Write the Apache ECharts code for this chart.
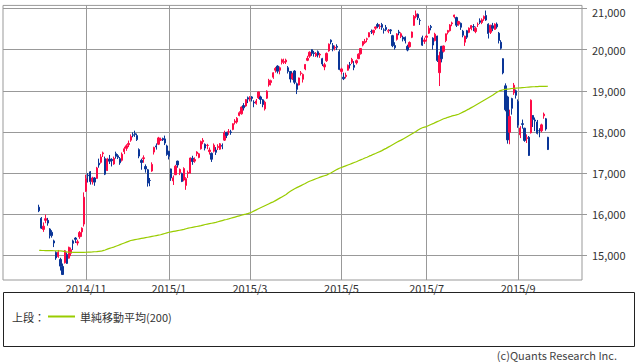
<!DOCTYPE html>
<html><head><meta charset="utf-8">
<script src="https://cdn.jsdelivr.net/npm/echarts@6/dist/echarts.min.js"></script>
<style>html,body{margin:0;padding:0;background:#fff}#c{width:638px;height:362px}</style>
</head><body><div id="c"></div>
<script>
// Trading days per month (Tokyo), Oct 2014 - Sep 2015
const tradingDays = [
  ['2014/10',[1,2,3,6,7,8,9,10,14,15,16,17,20,21,22,23,24,27,28,29,30,31]],
  ['2014/11',[4,5,6,7,10,11,12,13,14,17,18,19,20,21,25,26,27,28]],
  ['2014/12',[1,2,3,4,5,8,9,10,11,12,15,16,17,18,19,22,24,25,26,29,30]],
  ['2015/1',[5,6,7,8,9,13,14,15,16,19,20,21,22,23,26,27,28,29,30]],
  ['2015/2',[2,3,4,5,6,9,10,12,13,16,17,18,19,20,23,24,25,26,27]],
  ['2015/3',[2,3,4,5,6,9,10,11,12,13,16,17,18,19,20,23,24,25,26,27,30,31]],
  ['2015/4',[1,2,3,6,7,8,9,10,13,14,15,16,17,20,21,22,23,24,27,28,30]],
  ['2015/5',[1,7,8,11,12,13,14,15,18,19,20,21,22,25,26,27,28,29]],
  ['2015/6',[1,2,3,4,5,8,9,10,11,12,15,16,17,18,19,22,23,24,25,26,29,30]],
  ['2015/7',[1,2,3,6,7,8,9,10,13,14,15,16,17,21,22,23,24,27,28,29,30,31]],
  ['2015/8',[3,4,5,6,7,10,11,12,13,14,17,18,19,20,21,24,25,26,27,28,31]],
  ['2015/9',[1,2,3,4,7,8,9,10,11,14,15,16,17,18,24]]
];
const monthLabels = ['2014/11','2015/1','2015/3','2015/5','2015/7','2015/9'];
const yTicks = [15000,16000,17000,18000,19000,20000,21000];

// [open, close, low, high]
const candles = [
[16170,16082,16050,16230],[15900,15661,15640,15930],[15630,15708,15570,15800],[15850,15891,15780,15990],[15850,15784,15720,15910],
[15640,15478,15410,15660],[15560,15479,15430,15610],[15350,15300,15200,15380],[15070,14936,14890,15100],[14970,15074,14940,15130],
[14900,14738,14630,14940],[14730,14533,14529,14800],[14820,15111,14800,15130],[15020,14804,14790,15070],[14930,15195,14920,15210],
[15050,15138,14980,15190],[15350,15291,15130,15380],[15420,15388,15300,15440],[15300,15329,15240,15380],[15450,15553,15400,15590],
[15570,15658,15450,15680],[15760,16413,15700,16530],
[16560,16862,16540,16960],[16950,16937,16770,17000],[17030,16792,16720,17050],[16790,16880,16720,16910],[16880,16780,16690,16900],
[16870,17124,16860,17150],[17240,17197,17130,17350],[17260,17392,17230,17460],[17470,17490,17390,17520],[17350,16973,16950,17400],
[17060,17344,17050,17370],[17340,17288,17220,17440],[17330,17300,17160,17360],[17220,17357,17200,17400],[17470,17407,17350,17520],
[17420,17383,17340,17460],[17350,17248,17200,17390],[17310,17459,17280,17500],
[17520,17590,17460,17640],[17600,17663,17540,17700],[17690,17720,17630,17790],[17800,17887,17760,17940],[17930,17920,17870,17990],
[17960,17935,17880,18030],[17910,17813,17780,17960],[17570,17412,17360,17600],[17310,17257,17080,17350],[17350,17371,17250,17430],
[17160,17099,17010,17210],[17080,16755,16670,17100],[16820,16819,16680,16880],[17050,17210,17030,17260],[17510,17621,17450,17640],
[17660,17635,17570,17720],[17700,17854,17680,17880],[17800,17818,17780,17860],[17840,17808,17780,17860],[17830,17729,17680,17910],
[17660,17451,17420,17690],
[17530,17408,17330,17540],[17100,16883,16810,17110],[16810,16885,16710,16940],[16960,17167,16950,17200],[17290,17197,17130,17300],
[17010,17087,16950,17110],[16990,16795,16780,17010],[16830,17108,16800,17140],[16700,16864,16592,16900],[16990,17014,16880,17060],
[17000,17366,16990,17380],[17360,17280,17200,17420],[17290,17329,17250,17380],[17470,17511,17410,17530],[17380,17468,17360,17490],
[17590,17768,17570,17790],[17760,17795,17700,17850],[17700,17606,17550,17720],[17670,17674,17580,17710],
[17520,17558,17450,17620],[17480,17335,17270,17500],[17530,17678,17500,17720],[17560,17504,17440,17630],[17620,17648,17560,17700],
[17580,17711,17560,17730],[17670,17652,17580,17720],[17800,17979,17780,18030],[17990,17913,17850,18000],[18000,18004,17930,18070],
[18000,17987,17930,18050],[18060,18199,18040,18210],[18230,18264,18180,18310],[18240,18332,18200,18360],[18400,18466,18380,18500],
[18440,18603,18420,18620],[18640,18585,18520,18700],[18630,18785,18610,18800],[18830,18797,18700,18860],
[18800,18826,18740,18870],[18850,18815,18740,18870],[18720,18703,18600,18770],[18690,18751,18660,18800],[18830,18971,18800,18980],
[18850,18790,18680,18880],[18780,18665,18600,18800],[18560,18723,18520,18760],[18820,18991,18800,19010],[19140,19254,19100,19290],
[19200,19246,19130,19270],[19330,19437,19290,19450],[19500,19544,19440,19580],[19600,19476,19420,19620],[19500,19560,19400,19590],
[19690,19754,19640,19780],[19690,19713,19650,19780],[19700,19746,19650,19780],[19560,19471,19420,19600],[19470,19285,19200,19480],
[19300,19411,19260,19440],[19480,19206,19160,19500],
[19170,19034,18920,19200],[19140,19312,19130,19320],[19420,19435,19370,19480],[19280,19397,19200,19420],[19530,19640,19500,19650],
[19740,19789,19720,19850],[19840,19937,19800,19960],[20000,19907,19850,20006],[19920,19905,19830,19970],[19850,19908,19820,19940],
[19950,19869,19810,19980],[19870,19885,19800,19920],[19780,19652,19600,19800],[19580,19634,19500,19680],[19730,19909,19700,19930],
[19970,20133,19950,20150],[20230,20187,20130,20250],[20100,20020,19960,20160],[20040,20058,19980,20100],[20080,20058,19990,20130],
[19950,19520,19500,20000],
[19470,19531,19400,19560],[19330,19292,19260,19440],[19350,19379,19300,19440],[19500,19620,19490,19640],[19640,19624,19540,19700],
[19690,19764,19650,19800],[19620,19570,19500,19720],[19680,19732,19640,19760],[19780,19890,19770,19910],[19900,20026,19880,20030],
[20110,20196,20080,20210],[20170,20202,20140,20260],[20250,20264,20180,20290],[20310,20413,20300,20420],[20440,20437,20380,20490],
[20410,20472,20350,20480],[20520,20551,20480,20560],[20610,20563,20520,20650],
[20560,20569,20500,20620],[20610,20543,20480,20650],[20480,20473,20390,20520],[20540,20488,20450,20600],[20450,20460,20400,20500],
[20480,20457,20380,20500],[20340,20096,20060,20360],[20100,20046,20000,20180],[20250,20382,20220,20400],[20430,20407,20350,20480],
[20320,20387,20280,20420],[20300,20257,20200,20340],[20300,20219,20150,20320],[20080,19990,19960,20120],[20070,20174,20050,20200],
[20300,20428,20280,20440],[20590,20809,20580,20840],[20800,20868,20760,20952],[20860,20771,20720,20880],[20710,20706,20600,20760],
[20290,20109,20090,20340],[20200,20235,20140,20290],
[20300,20329,20200,20360],[20400,20522,20380,20580],[20560,20539,20470,20600],[20280,20112,20000,20300],[20220,20376,20200,20410],
[20330,19737,19700,20340],[19440,19855,19115,19950],[20080,19779,19690,20090],[19960,20089,19930,20100],[20220,20385,20180,20390],
[20420,20463,20370,20480],[20460,20600,20440,20620],[20630,20650,20570,20680],[20800,20841,20760,20850],[20780,20593,20550,20800],
[20620,20683,20580,20700],[20640,20544,20480,20660],[20450,20350,20300,20480],[20180,20328,20090,20340],[20460,20303,20260,20480],
[20420,20522,20400,20540],[20510,20585,20470,20600],
[20560,20548,20450,20620],[20440,20520,20400,20560],[20610,20614,20550,20660],[20700,20664,20620,20760],[20660,20724,20620,20760],
[20750,20808,20700,20830],[20830,20720,20700,20950],[20620,20392,20270,20640],[20420,20595,20380,20600],[20580,20519,20450,20650],
[20490,20620,20480,20640],[20620,20554,20510,20660],[20400,20222,20150,20430],[20180,20033,20000,20230],[19780,19435,19400,19790],
[19120,18540,18500,19180],[18850,17806,17714,18880],[17990,18376,17700,18540],[18810,18574,18420,18830],[18950,19136,18900,19190],
[19000,18890,18810,19030],
[18740,18165,18100,18790],[17930,18095,17850,18140],[18200,18182,18080,18300],[18090,17792,17760,18100],[17840,17860,17730,17940],
[17870,17427,17415,17900],[17980,18770,17960,18790],[18400,18299,18120,18410],[18290,18264,18020,18350],[18240,17965,17940,18290],
[18030,18026,17870,18090],[18030,18171,17990,18200],[18390,18432,18320,18470],[18320,18070,18030,18340],[17870,17571,17560,17880]
];

// 200-day simple moving average
const ma200 = [
15120,15118,15117,15115,15114,15113,15112,15111,15110,15110,
15108,15100,15090,15082,15078,15075,15073,15072,15072,15071,
15071,15072,15075,15078,15080,15083,15087,15091,15096,15100,
15115,15130,15150,15170,15185,15200,15220,15240,15260,15280,
15300,15320,15340,15360,15370,15380,15390,15400,15410,15420,
15430,15440,15450,15460,15470,15480,15490,15500,15515,15530,
15545,15560,15570,15580,15590,15600,15610,15620,15630,15645,
15660,15670,15680,15690,15700,15710,15720,15735,15750,15760,
15770,15780,15790,15800,15815,15830,15845,15860,15870,15885,
15900,15915,15930,15945,15960,15975,15990,16000,16015,16030,
16055,16080,16105,16130,16155,16180,16205,16230,16255,16280,
16300,16330,16360,16390,16420,16450,16480,16520,16555,16590,
16620,16645,16670,16695,16720,16745,16775,16800,16820,16840,
16860,16880,16900,16920,16935,16950,16975,17000,17030,17060,
17090,17115,17135,17155,17175,17195,17215,17235,17255,17275,
17300,17320,17340,17365,17385,17410,17430,17455,17475,17500,
17520,17545,17575,17600,17630,17660,17690,17720,17750,17775,
17800,17830,17860,17890,17920,17950,17980,18010,18045,18075,
18100,18115,18130,18155,18180,18200,18225,18250,18270,18295,
18320,18335,18355,18370,18390,18400,18415,18430,18455,18480,
18505,18535,18560,18590,18620,18650,18680,18710,18740,18770,
18800,18830,18860,18890,18930,18965,18990,19010,19025,19035,
19042,19048,19055,19060,19064,19068,19072,19076,19080,19085,
19090,19094,19098,19100,19103,19105,19106,19107,19108,19110
];

const dates = [];
const monthStart = {};
tradingDays.forEach(([m, days]) => {
  days.forEach((d, j) => {
    const s = m + '/' + (d < 10 ? '0' + d : d);
    if (j === 0) monthStart[s] = m;
    dates.push(s);
  });
});
const padBefore = Array.from({length: 17}, (_, i) => 'pre' + i);
const padAfter = Array.from({length: 16}, (_, i) => 'post' + i);
const categories = padBefore.concat(dates, padAfter);
const isLabelDay = v => monthStart[v] !== undefined && monthLabels.indexOf(monthStart[v]) >= 0;

const FONT = '"Noto Sans CJK JP", "Noto Sans", sans-serif';
const chart = echarts.init(document.getElementById('c'), null, {renderer: 'svg'});
chart.setOption({
  animation: false,
  backgroundColor: '#fff',
  grid: {left: 3, right: 56, top: 1, bottom: 82, show: true, borderColor: '#999', borderWidth: 1, containLabel: false},
  xAxis: {
    type: 'category', data: categories, boundaryGap: false,
    axisLine: {show: false}, axisTick: {show: false},
    axisLabel: {interval: (i, v) => isLabelDay(v), formatter: v => monthStart[v] || '', margin: 2,
      fontSize: 11, color: '#333', fontFamily: FONT},
    splitLine: {show: true, interval: (i, v) => isLabelDay(v), lineStyle: {color: '#999', width: 1}}
  },
  yAxis: {
    type: 'value', position: 'right', min: 14400, max: 21075, scale: true,
    axisLine: {show: false},
    axisTick: {show: true, length: 5, lineStyle: {color: '#999'}, customValues: yTicks},
    axisLabel: {customValues: yTicks, margin: 10, fontSize: 11, color: '#333', fontFamily: FONT,
      formatter: v => v === 21000 ? '{top|21,000}' : v.toLocaleString('en-US'),
      rich: {top: {fontSize: 11, lineHeight: 12, color: '#333', fontFamily: FONT, padding: [6, 0, 0, 0]}}},
    splitLine: {show: true, lineStyle: {color: '#999', width: 1}}
  },
  legend: {
    data: ['単純移動平均(200)'], left: 48, top: 311, padding: 0,
    icon: 'rect', itemWidth: 27, itemHeight: 2,
    textStyle: {fontSize: 11, color: '#333', fontFamily: FONT}
  },
  series: [
    {
      type: 'candlestick', name: 'N225',
      data: dates.map((d, i) => [d].concat(candles[i])),
      encode: {x: 0, y: [1, 2, 3, 4]},
      barWidth: 1.8,
      itemStyle: {color: '#ff0a46', color0: '#0a3597', borderColor: '#ff0a46', borderColor0: '#0a3597', borderWidth: 1}
    },
    {
      type: 'line', name: '単純移動平均(200)',
      data: dates.map((d, i) => [d, ma200[i]]),
      encode: {x: 0, y: 1},
      showSymbol: false, symbol: 'none',
      lineStyle: {color: '#99cc00', width: 1.2},
      itemStyle: {color: '#99cc00'}
    }
  ],
  graphic: [
    {type: 'rect', shape: {x: 3.5, y: 292.5, width: 631, height: 54}, style: {fill: 'none', stroke: '#222', lineWidth: 1}},
    {type: 'text', left: 12, top: 311, style: {text: '上段：', fontSize: 11, fill: '#333', fontFamily: FONT}},
    {type: 'text', right: 21, top: 349, style: {text: '(c)Quants Research Inc.', fontSize: 11, fill: '#444', fontFamily: FONT}}
  ]
});
</script>
</body></html>
